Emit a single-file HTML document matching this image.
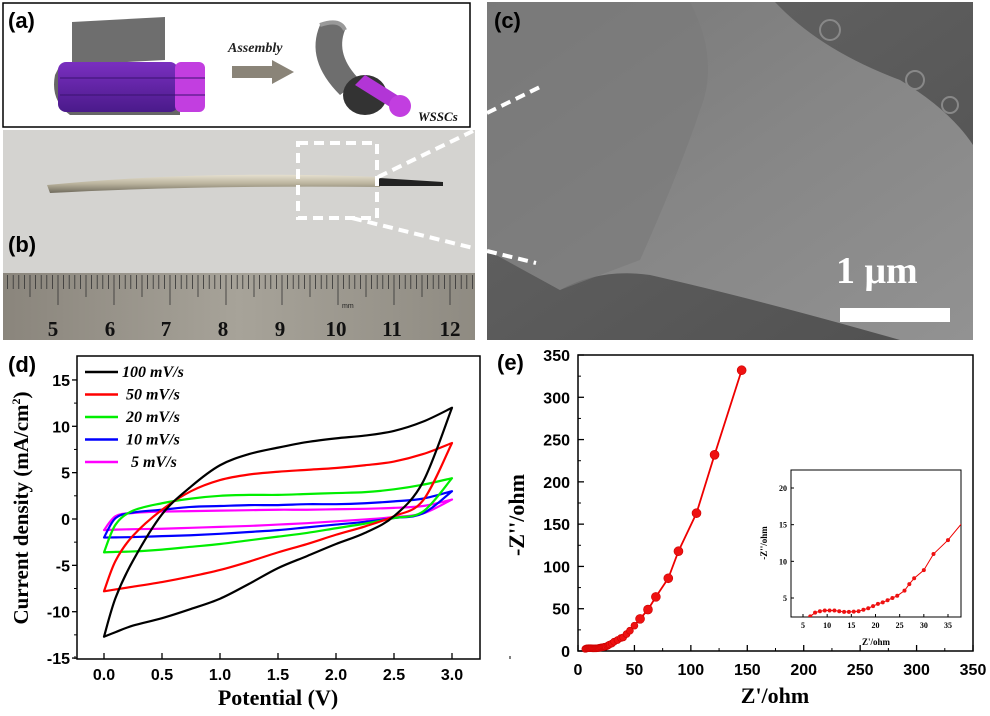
<!DOCTYPE html>
<html><head><meta charset="utf-8"><style>
html,body{margin:0;padding:0;background:#fff;}
body{width:990px;height:716px;overflow:hidden;position:relative;font-family:"Liberation Sans",sans-serif;}
svg{position:absolute;left:0;top:0;}
</style></head><body>
<svg id="fig" width="990" height="716" viewBox="0 0 990 716" xmlns="http://www.w3.org/2000/svg">
<defs>
<linearGradient id="semBg" x1="0" y1="0" x2="1" y2="1"><stop offset="0" stop-color="#666"/><stop offset="1" stop-color="#505050"/></linearGradient>
<linearGradient id="fiber" x1="0" y1="0" x2="1" y2="1"><stop offset="0" stop-color="#777"/><stop offset="0.5" stop-color="#868686"/><stop offset="1" stop-color="#929292"/></linearGradient>
<linearGradient id="ruler" x1="0" y1="0" x2="1" y2="0"><stop offset="0" stop-color="#8a857c"/><stop offset="0.5" stop-color="#a7a399"/><stop offset="1" stop-color="#8f8b82"/></linearGradient>
<linearGradient id="wire" x1="0" y1="0" x2="0" y2="1"><stop offset="0" stop-color="#e6e0cf"/><stop offset="0.5" stop-color="#b9b29c"/><stop offset="1" stop-color="#6f6a5c"/></linearGradient>
<linearGradient id="purp" x1="0" y1="0" x2="0" y2="1"><stop offset="0" stop-color="#7a2fc0"/><stop offset="1" stop-color="#4a1a8a"/></linearGradient>
</defs>

<!-- panel a -->
<g>
<rect x="3" y="3" width="467" height="124" fill="#fff" stroke="#000" stroke-width="1.5"/>
<text x="8" y="28" font-size="22" font-weight="bold" fill="#000">(a)</text>
<path d="M72 22 L165 17 L165 60 L72 65 Z" fill="#555" opacity="0.85"/>
<path d="M55 75 Q50 100 70 115 L180 115 L180 65 L60 65 Z" fill="#666"/>
<rect x="58" y="62" width="120" height="50" rx="8" fill="url(#purp)"/>
<rect x="175" y="62" width="30" height="50" rx="6" fill="#c23ee0"/>
<line x1="60" y1="78" x2="205" y2="78" stroke="#3a1270" stroke-width="1"/>
<line x1="60" y1="95" x2="205" y2="95" stroke="#3a1270" stroke-width="1"/>
<text x="228" y="52" font-family="Liberation Serif,serif" font-size="14" font-style="italic" font-weight="bold" fill="#222">Assembly</text>
<path d="M232 66 L272 66 L272 60 L294 72 L272 84 L272 78 L232 78 Z" fill="#8a8478"/>
<path d="M320 25 Q305 60 340 95 L360 80 Q335 55 345 30 Q340 15 320 25 Z" fill="#6e6e6e"/>
<path d="M320 25 Q340 18 345 30" stroke="#999" stroke-width="4" fill="none"/>
<ellipse cx="365" cy="95" rx="22" ry="20" fill="#333"/>
<path d="M355 85 L395 110 L405 100 L365 75 Z" fill="#b235d6"/>
<circle cx="400" cy="106" r="11" fill="#c23ee0"/>
<text x="418" y="121" font-family="Liberation Serif,serif" font-size="13" font-style="italic" font-weight="bold" fill="#111">WSSCs</text>
</g>

<!-- panel b -->
<g>
<rect x="3" y="130" width="472" height="145" fill="#d4d3d0"/>
<path d="M47 185 Q200 170 380 177 L380 187 Q200 185 50 193 Z" fill="url(#wire)"/>
<path d="M378 178 L443 182 L443 186 L378 186 Z" fill="#222"/>
<rect x="298" y="143" width="79" height="75" fill="none" stroke="#fff" stroke-width="4" stroke-dasharray="10 6"/>
<line x1="378" y1="177" x2="473" y2="131" stroke="#fff" stroke-width="4" stroke-dasharray="10 6"/>
<line x1="352" y1="218" x2="473" y2="248" stroke="#fff" stroke-width="4" stroke-dasharray="10 6"/>
<text x="8" y="252" font-size="22" font-weight="bold" fill="#000">(b)</text>
<rect x="3" y="273" width="472" height="67" fill="url(#ruler)"/>
<g id="rulerTicks" stroke="#333" stroke-width="0.8"></g>
<g font-family="Liberation Serif,serif" font-size="21" font-weight="bold" fill="#111" text-anchor="middle">
<text x="53" y="336">5</text><text x="110" y="336">6</text><text x="166" y="336">7</text><text x="223" y="336">8</text><text x="280" y="336">9</text><text x="336" y="336">10</text><text x="392" y="336">11</text><text x="450" y="336">12</text></g>
<text x="342" y="308" font-size="7" fill="#222">mm</text>
</g>

<!-- panel c -->
<g>
<rect x="487" y="2" width="486" height="338" fill="url(#semBg)"/>
<path d="M487 2 L775 2 Q820 50 900 80 Q950 110 973 145 L973 340 L900 340 Q760 300 650 275 Q600 268 560 290 L487 250 Z" fill="url(#fiber)"/>
<path d="M487 2 L690 2 Q720 60 700 110 Q680 170 640 260 L560 290 L487 250 Z" fill="#7a7a7a" opacity="0.7"/>
<circle cx="830" cy="30" r="10" fill="none" stroke="#888" stroke-width="2"/>
<circle cx="915" cy="80" r="9" fill="none" stroke="#888" stroke-width="2"/>
<circle cx="950" cy="105" r="8" fill="none" stroke="#888" stroke-width="2"/>
<text x="494" y="28" font-size="22" font-weight="bold" fill="#000">(c)</text>
<line x1="487" y1="113" x2="542" y2="86" stroke="#fff" stroke-width="4" stroke-dasharray="10 6"/>
<line x1="487" y1="251" x2="536" y2="263" stroke="#fff" stroke-width="4" stroke-dasharray="10 6"/>
<text x="836" y="283" font-family="Liberation Serif,serif" font-size="38" font-weight="bold" fill="#fff">1 μm</text>
<rect x="840" y="308" width="110" height="14" fill="#fff"/>
</g>

<!-- panel d -->
<g id="panelD">
<text x="8" y="372" font-size="22" font-weight="bold" fill="#000">(d)</text>
<rect x="77" y="356" width="403" height="303" fill="none" stroke="#000" stroke-width="1.5"/>
<g id="dTicks"></g><g id="dCurves"></g><g id="dLegend"></g>
<text x="278" y="705" text-anchor="middle" font-family="Liberation Serif,serif" font-size="22" font-weight="bold">Potential (V)</text>
<text transform="translate(28,508) rotate(-90)" text-anchor="middle" font-family="Liberation Serif,serif" font-size="21" font-weight="bold">Current density (mA/cm<tspan dy="-8" font-size="12">2</tspan><tspan dy="8">)</tspan></text>
</g>

<!-- panel e -->
<g id="panelE">
<text x="497" y="370" font-size="22" font-weight="bold" fill="#000">(e)</text>
<rect x="578" y="355" width="395" height="296" fill="none" stroke="#000" stroke-width="1.5"/>
<g id="eTicks"></g><g id="eCurve"></g>
<rect x="791" y="470" width="170" height="147" fill="#fff" stroke="#000" stroke-width="1"/>
<g id="iTicks"></g><g id="iCurve"></g>
<text x="775" y="703" text-anchor="middle" font-family="Liberation Serif,serif" font-size="22" font-weight="bold">Z'/ohm</text>
<text transform="translate(524,515) rotate(-90)" text-anchor="middle" font-family="Liberation Serif,serif" font-size="22" font-weight="bold">-Z''/ohm</text>
<text x="876" y="645" text-anchor="middle" font-family="Liberation Serif,serif" font-size="9" font-weight="bold">Z'/ohm</text>
<text transform="translate(767,543) rotate(-90)" text-anchor="middle" font-family="Liberation Serif,serif" font-size="9" font-weight="bold">-Z''/ohm</text>
</g>
</svg>
<script>
// ---- CV data ----
const cvV = [0,0.1,0.25,0.5,0.75,1.0,1.25,1.5,1.75,2.0,2.25,2.5,2.75,3.0];
const cvLabels = ["100 mV/s","50 mV/s","20 mV/s","10 mV/s","5 mV/s"];
const cvColors = ["#000","#ff0000","#00ee00","#0000ff","#ff00ff"];
const cv100Up = [-12.7,-8.5,-4.5,0.5,3.5,5.8,7,7.7,8.3,8.7,9.0,9.5,10.5,12];
const cv100Dn = [-12.7,-12.2,-11.5,-10.7,-9.7,-8.6,-7,-5.3,-4,-2.7,-1.5,0.3,4,12];
const cv50Up = [-7.8,-4.5,-1.8,1.0,3,4.2,4.8,5.1,5.3,5.5,5.8,6.2,7,8.2];
const cv50Dn = [-7.8,-7.6,-7.3,-6.8,-6.2,-5.5,-4.6,-3.6,-2.7,-1.7,-0.8,0.3,2,8.2];
const cv20Up = [-3.6,-0.6,0.9,1.7,2.2,2.5,2.6,2.6,2.7,2.8,2.9,3.2,3.7,4.4];
const cv20Dn = [-3.6,-3.55,-3.5,-3.3,-3.0,-2.7,-2.3,-1.9,-1.5,-1.0,-0.5,0.1,0.8,4.4];
const cv10Up = [-2.0,0.1,0.7,1.0,1.3,1.4,1.5,1.5,1.6,1.6,1.7,1.9,2.2,3.0];
const cv10Dn = [-2.0,-1.98,-1.95,-1.85,-1.75,-1.6,-1.4,-1.2,-0.9,-0.6,-0.3,0.1,0.6,3.0];
const cv5Up = [-1.2,0.3,0.65,0.8,0.85,0.9,0.95,1.0,1.0,1.05,1.1,1.2,1.4,2.1];
const cv5Dn = [-1.2,-1.15,-1.1,-1.05,-0.95,-0.85,-0.75,-0.6,-0.45,-0.25,-0.05,0.2,0.6,2.1];
const cvXTicks = [0,0.5,1.0,1.5,2.0,2.5,3.0];
const cvYTicks = [-15,-10,-5,0,5,10,15];
// ---- Nyquist data ----
const zRe = [6.5,7.5,8.5,9.5,10.5,11.5,12.5,13.5,14.5,15.5,16.5,17.5,18.5,19.5,20.5,21.5,22.5,23.5,24.5,26,27,28,30,32,35,38,40,43,46,50,55,62,69,80,89,105,121,145];
const zIm = [2.5,3.0,3.2,3.3,3.3,3.3,3.2,3.1,3.1,3.15,3.2,3.4,3.6,3.9,4.2,4.4,4.7,5.0,5.3,6.0,6.9,7.7,8.8,11,12.9,15.3,16,20,24,30,38,49,64,86,118,163,232,332];
const eXTicks = [0,50,100,150,200,250,300,350];
const eYTicks = [0,50,100,150,200,250,300,350];
const iXTicks = [5,10,15,20,25,30,35];
const iYTicks = [5,10,15,20];

const NS="http://www.w3.org/2000/svg";
function mk(tag,attrs,parent){const e=document.createElementNS(NS,tag);for(const k in attrs)e.setAttribute(k,attrs[k]);parent.appendChild(e);return e;}
function smooth(pts){let d='M'+pts[0][0]+','+pts[0][1];
 for(let i=0;i<pts.length-1;i++){const p0=pts[Math.max(0,i-1)],p1=pts[i],p2=pts[i+1],p3=pts[Math.min(pts.length-1,i+2)];
  const c1=[p1[0]+(p2[0]-p0[0])/6,p1[1]+(p2[1]-p0[1])/6],c2=[p2[0]-(p3[0]-p1[0])/6,p2[1]-(p3[1]-p1[1])/6];
  d+=' C'+c1[0]+','+c1[1]+' '+c2[0]+','+c2[1]+' '+p2[0]+','+p2[1];}
 return d;}

// ruler ticks
const rt=document.getElementById('rulerTicks');
for(let i=-9;i<=75;i++){const x=58+i*5.6;if(x<4||x>474)continue;const len=(i%10===0)?30:(i%5===0?22:14);
 const l=mk('line',{x1:x,y1:275,x2:x,y2:275+len},rt);
 
 }

// CV axes
const dX=v=>104+v*116, dY=v=>519-v*9.27;
const dT=document.getElementById('dTicks');
cvXTicks.forEach(v=>{const x=dX(v);
 const t=mk('line',{x1:x,y1:659,x2:x,y2:653,stroke:'#000','stroke-width':1.3},dT);
 
 
 mk('line',{x1:x+58,y1:659,x2:x+58,y2:656,stroke:'#000','stroke-width':1},dT);
 const tx=mk('text',{x:x,y:680,'text-anchor':'middle','font-size':16,'font-weight':'bold'},dT);tx.textContent=v.toFixed(1);
 
 });
mk('line',{x1:dX(-0.25),y1:659,x2:dX(-0.25),y2:656,stroke:'#000'},dT);
cvYTicks.forEach(v=>{const y=dY(v);
 const t=mk('line',{x1:72,y1:y,x2:77,y2:y,stroke:'#000','stroke-width':1.3},dT);
 
 
 if(v<15) mk('line',{x1:74,y1:y-23.2,x2:77,y2:y-23.2,stroke:'#000'},dT);
 const tx=mk('text',{x:70,y:y+6,'text-anchor':'end','font-size':16,'font-weight':'bold'},dT);tx.textContent=v;
 
 });
const cvSeries=[[cv100Up,cv100Dn],[cv50Up,cv50Dn],[cv20Up,cv20Dn],[cv10Up,cv10Dn],[cv5Up,cv5Dn]];
const dC=document.getElementById('dCurves');
for(let s=cvSeries.length-1;s>=0;s--){const [up,dn]=cvSeries[s];
 const upP=cvV.map((v,i)=>[dX(v),dY(up[i])]);
 const dnP=cvV.map((v,i)=>[dX(v),dY(dn[i])]).reverse();
 const p=mk('path',{d:smooth(upP)+' '+smooth(dnP).replace(/^M/,'L')+' Z',fill:'none',stroke:cvColors[s],'stroke-width':2.2,'stroke-linejoin':'round'},dC);
 
 }
const dL=document.getElementById('dLegend');
cvLabels.forEach((lab,i)=>{const y=372+i*22.5;
 const l=mk('line',{x1:85,y1:y,x2:118,y2:y,stroke:cvColors[i],'stroke-width':2.5},dL);
 
 
 const t=mk('text',{x:i===0?122:(i===4?131:126),y:y+5,'font-family':'Liberation Serif,serif','font-size':16,'font-style':'italic','font-weight':'bold'},dL);t.textContent=lab;
 
 });

// Nyquist main
const eX=v=>578+v*1.1286, eY=v=>651-v*0.8457;
const eT=document.getElementById('eTicks');
eXTicks.forEach(v=>{const x=eX(v);
 const t=mk('line',{x1:x,y1:651,x2:x,y2:645,stroke:'#000','stroke-width':1.3},eT);
 
 
 if(v<350) mk('line',{x1:eX(v+25),y1:651,x2:eX(v+25),y2:648,stroke:'#000'},eT);
 const tx=mk('text',{x:x,y:675,'text-anchor':'middle','font-size':16,'font-weight':'bold'},eT);tx.textContent=v;
 
 });
eYTicks.forEach(v=>{const y=eY(v);
 const t=mk('line',{x1:578,y1:y,x2:584,y2:y,stroke:'#000','stroke-width':1.3},eT);
 
 
 if(v<350) mk('line',{x1:578,y1:eY(v+25),x2:581,y2:eY(v+25),stroke:'#000'},eT);
 const tx=mk('text',{x:570,y:y+6,'text-anchor':'end','font-size':16,'font-weight':'bold'},eT);tx.textContent=v;
 
 });
const eC=document.getElementById('eCurve');
const ln=mk('polyline',{points:zRe.map((x,i)=>eX(x)+','+eY(zIm[i])).join(' '),fill:'none',stroke:'#ee0000','stroke-width':1.8},eC);


zRe.forEach((x,i)=>{const c=mk('circle',{cx:eX(x),cy:eY(zIm[i]),r:zIm[i]>30?4.5:3.5,fill:'#ee1111',stroke:'#c00','stroke-width':0.6},eC);
 
 });

// inset
const iX=v=>803+(v-5)*4.833, iY=v=>598-(v-5)*7.333;
const iT=document.getElementById('iTicks');
iXTicks.forEach(v=>{const x=iX(v);
 mk('line',{x1:x,y1:617,x2:x,y2:614,stroke:'#000'},iT);
 const tx=mk('text',{x:x,y:628,'text-anchor':'middle','font-family':'Liberation Serif,serif','font-size':8,'font-weight':'bold'},iT);tx.textContent=v;
 
 });
iYTicks.forEach(v=>{const y=iY(v);
 mk('line',{x1:791,y1:y,x2:794,y2:y,stroke:'#000'},iT);
 const tx=mk('text',{x:787,y:y+3,'text-anchor':'end','font-family':'Liberation Serif,serif','font-size':8,'font-weight':'bold'},iT);tx.textContent=v;
 
 });
const iC=document.getElementById('iCurve');
mk('clipPath',{id:'insetClip'},iC);
mk('rect',{x:791,y:470,width:170,height:147},document.getElementById('insetClip'));
const ig=mk('g',{'clip-path':'url(#insetClip)'},iC);
const il=mk('polyline',{points:zRe.map((x,i)=>iX(x)+','+iY(zIm[i])).join(' '),fill:'none',stroke:'#ee0000','stroke-width':1},ig);


zRe.forEach((x,i)=>{if(x>37)return;const c=mk('circle',{cx:iX(x),cy:iY(zIm[i]),r:2,fill:'#ee1111'},ig);
 
 });
</script>
</body></html>
